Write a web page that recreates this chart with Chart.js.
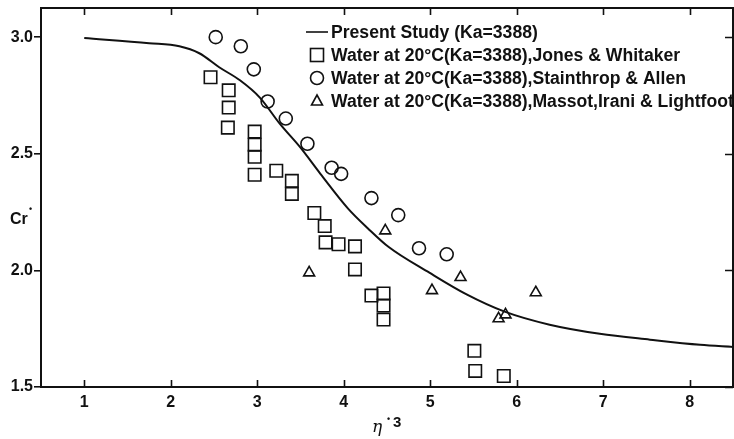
<!DOCTYPE html>
<html>
<head>
<meta charset="utf-8">
<script src="https://cdn.jsdelivr.net/npm/chart.js@4.4.1/dist/chart.umd.min.js"></script>
<style>
    html, body { margin: 0; padding: 0; background: #fff; }
</style>
</head>
<body>
<canvas id="myChart" width="734" height="439"></canvas>
<script>
// present study curve (Ka = 3388)
var curveX = [1.0, 1.75, 2.10, 2.33, 2.56, 2.80, 3.03, 3.26, 3.50, 3.73, 4.05, 4.28, 4.52, 4.99, 5.42, 5.86, 6.38, 6.96, 7.54, 8.12, 8.50];
var curveY = [2.996, 2.974, 2.961, 2.931, 2.871, 2.815, 2.741, 2.629, 2.526, 2.414, 2.265, 2.18, 2.10, 1.99, 1.897, 1.823, 1.767, 1.728, 1.703, 1.681, 1.672];

// Jones & Whitaker
var jonesX = [2.46, 2.67, 2.67, 2.66, 2.97, 2.97, 2.97, 2.97, 3.22, 3.40, 3.40, 3.66, 3.78, 3.79, 3.94, 4.13, 4.13, 4.32, 4.46, 4.46, 4.46, 5.51, 5.52, 5.85];
var jonesY = [2.828, 2.772, 2.698, 2.612, 2.595, 2.539, 2.487, 2.41, 2.427, 2.384, 2.328, 2.246, 2.19, 2.12, 2.112, 2.103, 2.004, 1.892, 1.901, 1.849, 1.789, 1.655, 1.569, 1.547];

// Stainthrop & Allen
var stainX = [2.52, 2.81, 2.96, 3.12, 3.33, 3.58, 3.86, 3.97, 4.32, 4.63, 4.87, 5.19];
var stainY = [3.0, 2.961, 2.862, 2.724, 2.651, 2.543, 2.44, 2.414, 2.31, 2.237, 2.095, 2.069];

// Massot, Irani & Lightfoot
var massotX = [3.60, 4.48, 5.02, 5.35, 5.79, 5.87, 6.22];
var massotY = [1.99, 2.17, 1.914, 1.97, 1.793, 1.81, 1.905];

var xTicks = [1, 2, 3, 4, 5, 6, 7, 8];
var yTicks = [1.5, 2.0, 2.5, 3.0];

var legendLabels = [
    'Present Study (Ka=3388)',
    'Water at 20\u00B0C(Ka=3388),Jones & Whitaker',
    'Water at 20\u00B0C(Ka=3388),Stainthrop & Allen',
    'Water at 20\u00B0C(Ka=3388),Massot,Irani & Lightfoot'
];

var ink = '#111';
var boldFont = 'bold 16px "Liberation Sans", Arial, sans-serif';

function toPoints(xs, ys) {
    var pts = [];
    for (var i = 0; i < xs.length; i++) {
        pts.push({ x: xs[i], y: ys[i] });
    }
    return pts;
}

// frame, inward ticks, axis titles and legend
var framePlugin = {
    id: 'frame',
    afterDraw: function (chart) {
        var ctx = chart.ctx;
        var a = chart.chartArea;
        var xs = chart.scales.x;
        var ys = chart.scales.y;
        ctx.save();
        ctx.strokeStyle = ink;
        ctx.lineWidth = 2;
        ctx.strokeRect(a.left, a.top, a.right - a.left, a.bottom - a.top);

        ctx.lineWidth = 1.6;
        ctx.beginPath();
        xTicks.forEach(function (v) {
            var px = Math.round(xs.getPixelForValue(v)) + 0.5;
            ctx.moveTo(px, a.bottom);
            ctx.lineTo(px, a.bottom - 7);
            ctx.moveTo(px, a.top);
            ctx.lineTo(px, a.top + 7);
        });
        yTicks.forEach(function (v) {
            var py = Math.round(ys.getPixelForValue(v)) + 0.5;
            ctx.moveTo(a.right, py);
            ctx.lineTo(a.right - 8, py);
        });
        ctx.stroke();

        // axis titles
        ctx.fillStyle = ink;
        ctx.textBaseline = 'alphabetic';
        ctx.textAlign = 'left';
        ctx.font = boldFont;
        ctx.fillText('Cr', 10, 224);
        ctx.font = 'bold 9px "Liberation Sans", Arial, sans-serif';
        ctx.fillText('\u2022', 29, 212);

        ctx.font = 'italic 17px "DejaVu Serif", serif';
        ctx.fillText('\u03B7', 372, 432);
        ctx.font = 'bold 9px "Liberation Sans", Arial, sans-serif';
        ctx.fillText('\u2022', 387, 422);
        ctx.font = 'bold 15px "Liberation Sans", Arial, sans-serif';
        ctx.fillText('3', 393, 427);

        // legend
        var rows = [32, 55, 78, 101];
        var sx = 317;
        ctx.lineWidth = 1.6;
        ctx.beginPath();
        ctx.moveTo(306, rows[0]);
        ctx.lineTo(328, rows[0]);
        ctx.stroke();
        ctx.strokeRect(sx - 6.5, rows[1] - 6.5, 13, 13);
        ctx.beginPath();
        ctx.arc(sx, rows[2], 6.5, 0, Math.PI * 2);
        ctx.stroke();
        ctx.beginPath();
        ctx.moveTo(sx, rows[3] - 6);
        ctx.lineTo(sx + 5.5, rows[3] + 4);
        ctx.lineTo(sx - 5.5, rows[3] + 4);
        ctx.closePath();
        ctx.stroke();

        ctx.font = 'bold 17.6px "Liberation Sans", Arial, sans-serif';
        ctx.textBaseline = 'middle';
        legendLabels.forEach(function (t, i) {
            ctx.fillText(t, 331, rows[i] + 1);
        });
        ctx.restore();
    }
};

var ctx = document.getElementById('myChart').getContext('2d');
new Chart(ctx, {
    type: 'scatter',
    data: {
        datasets: [
            {
                label: legendLabels[0],
                data: toPoints(curveX, curveY),
                showLine: true,
                cubicInterpolationMode: 'monotone',
                pointRadius: 0,
                borderColor: ink,
                borderWidth: 2,
                fill: false
            },
            {
                label: legendLabels[1],
                data: toPoints(jonesX, jonesY),
                pointStyle: 'rect',
                pointRadius: 8.8,
                borderWidth: 1.6,
                borderColor: ink,
                backgroundColor: 'rgba(0,0,0,0)'
            },
            {
                label: legendLabels[2],
                data: toPoints(stainX, stainY),
                pointStyle: 'circle',
                pointRadius: 6.5,
                borderWidth: 1.6,
                borderColor: ink,
                backgroundColor: 'rgba(0,0,0,0)'
            },
            {
                label: legendLabels[3],
                data: toPoints(massotX, massotY),
                pointStyle: 'triangle',
                pointRadius: 6.3,
                borderWidth: 1.6,
                borderColor: ink,
                backgroundColor: 'rgba(0,0,0,0)'
            }
        ]
    },
    options: {
        responsive: false,
        animation: false,
        layout: { autoPadding: false, padding: { top: 8, right: 1, left: 0, bottom: 0 } },
        plugins: {
            legend: { display: false },
            tooltip: { enabled: false }
        },
        scales: {
            x: {
                type: 'linear',
                min: 0.5,
                max: 8.5,
                afterBuildTicks: function (scale) {
                    scale.ticks = xTicks.map(function (v) { return { value: v }; });
                },
                afterFit: function (scale) {
                    scale.height = 52;
                    scale.paddingLeft = 0;
                    scale.paddingRight = 0;
                },
                grid: { drawOnChartArea: false, drawTicks: false },
                border: { display: false },
                ticks: {
                    padding: 6,
                    color: ink,
                    font: { family: '"Liberation Sans", Arial, sans-serif', size: 16, weight: 'bold' },
                    callback: function (v) { return v; }
                }
            },
            y: {
                type: 'linear',
                min: 1.5,
                max: 3.125,
                afterBuildTicks: function (scale) {
                    scale.ticks = yTicks.map(function (v) { return { value: v }; });
                },
                afterFit: function (scale) {
                    scale.width = 41;
                    scale.paddingTop = 0;
                    scale.paddingBottom = 0;
                },
                grid: { drawOnChartArea: false, drawTicks: true, tickLength: 7, color: ink, lineWidth: 1.6 },
                border: { display: false },
                ticks: {
                    padding: 1,
                    color: ink,
                    font: { family: '"Liberation Sans", Arial, sans-serif', size: 16, weight: 'bold' },
                    callback: function (v) { return v.toFixed(1); }
                }
            }
        }
    },
    plugins: [framePlugin]
});
</script>
</body>
</html>
